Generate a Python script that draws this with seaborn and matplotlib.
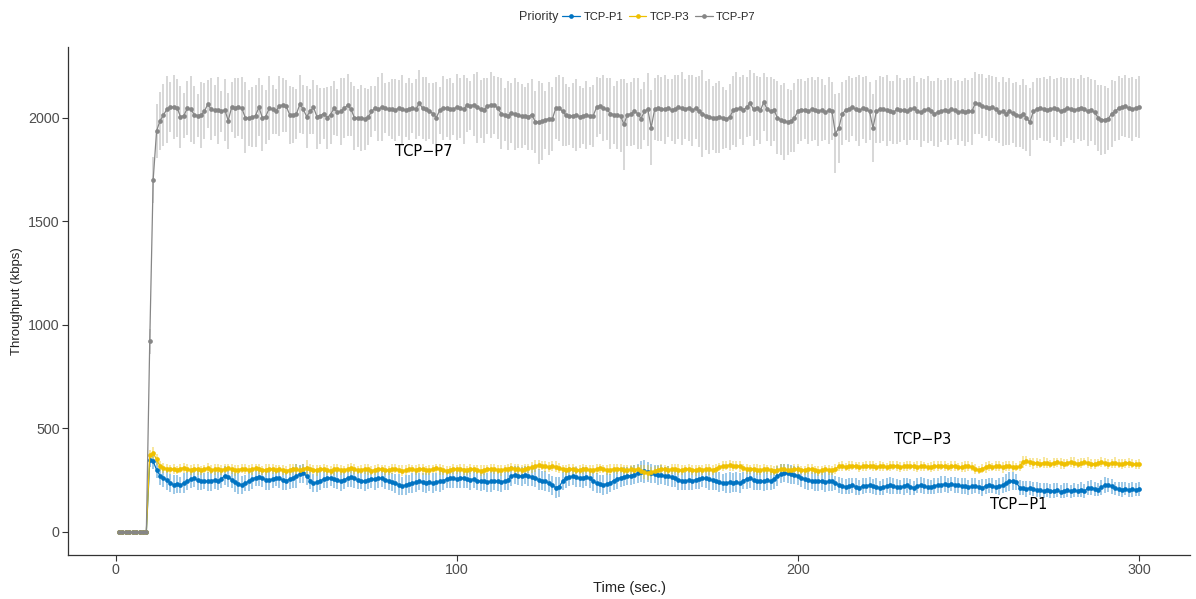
import matplotlib
matplotlib.use("Agg")
import matplotlib.pyplot as plt
from matplotlib.lines import Line2D
import numpy as np
import pandas as pd
import seaborn as sns

# ---------------- data ----------------
time = list(range(1, 301))

p1_mean = [
    0, 0, 0, 0, 0, 0, 0, 0, 0, 345,
    340, 300, 272, 262, 250, 236, 228, 232, 226, 236,
    244, 256, 258, 250, 244, 246, 244, 248, 250, 246,
    256, 272, 266, 252, 240, 232, 228, 236, 244, 256,
    262, 266, 260, 252, 250, 256, 262, 258, 250, 248,
    254, 262, 270, 278, 282, 270, 248, 236, 240, 248,
    254, 258, 262, 256, 250, 246, 252, 260, 264, 258,
    252, 248, 244, 250, 256, 254, 258, 260, 252, 248,
    240, 234, 228, 222, 226, 232, 236, 240, 244, 240,
    238, 242, 236, 240, 244, 248, 254, 258, 260, 256,
    258, 262, 256, 252, 256, 248, 244, 246, 240, 244,
    248, 244, 240, 246, 250, 270, 276, 272, 268, 274,
    270, 266, 262, 252, 248, 244, 236, 224, 214, 218,
    244, 262, 266, 268, 264, 260, 262, 266, 258, 244,
    236, 230, 228, 232, 236, 248, 256, 262, 266, 270,
    272, 276, 282, 290, 292, 288, 284, 278, 274, 276,
    270, 268, 264, 258, 252, 248, 244, 250, 246, 252,
    256, 260, 258, 254, 250, 244, 240, 238, 236, 240,
    238, 242, 236, 248, 256, 258, 252, 246, 248, 244,
    250, 246, 256, 270, 280, 284, 282, 278, 276, 272,
    262, 256, 250, 248, 246, 244, 248, 240, 244, 246,
    236, 226, 222, 218, 220, 224, 218, 214, 220, 222,
    226, 220, 218, 214, 216, 222, 224, 220, 218, 216,
    220, 224, 218, 214, 222, 226, 220, 218, 216, 222,
    226, 228, 230, 226, 232, 228, 224, 222, 220, 216,
    220, 222, 218, 214, 220, 224, 222, 218, 220, 226,
    236, 244, 246, 240, 214, 210, 208, 212, 206, 204,
    200, 198, 202, 196, 198, 200, 194, 198, 202, 196,
    200, 198, 204, 196, 212, 214, 208, 204, 216, 226,
    228, 220, 210, 206, 204, 208, 202, 206, 204, 206,
]

p3_mean = [
    0, 0, 0, 0, 0, 0, 0, 0, 0, 372,
    380, 350, 318, 308, 306, 302, 304, 300, 306, 310,
    304, 300, 306, 302, 298, 304, 308, 300, 302, 306,
    300, 304, 308, 302, 298, 300, 306, 304, 300, 302,
    308, 304, 298, 300, 306, 302, 300, 304, 298, 296,
    300, 306, 302, 298, 304, 310, 306, 300, 298, 302,
    304, 300, 296, 302, 306, 300, 298, 304, 308, 302,
    298, 300, 304, 302, 296, 300, 306, 302, 300, 298,
    302, 306, 300, 296, 298, 304, 302, 300, 306, 302,
    298, 300, 304, 308, 302, 298, 296, 300, 304, 302,
    306, 300, 298, 302, 304, 300, 296, 298, 302, 306,
    304, 300, 298, 302, 306, 310, 306, 302, 300, 304,
    308, 312, 318, 322, 320, 316, 312, 318, 314, 308,
    304, 300, 306, 302, 298, 300, 304, 302, 298, 300,
    304, 308, 302, 298, 300, 304, 302, 306, 300, 298,
    302, 300, 304, 296, 290, 286, 288, 294, 300, 304,
    302, 300, 304, 306, 300, 298, 302, 304, 300, 298,
    302, 300, 304, 302, 298, 306, 314, 318, 320, 322,
    318, 320, 316, 310, 304, 302, 306, 300, 298, 304,
    302, 300, 296, 298, 304, 302, 300, 298, 302, 304,
    300, 298, 302, 304, 300, 296, 298, 302, 300, 298,
    304, 316, 318, 314, 316, 320, 318, 314, 316, 318,
    320, 316, 314, 318, 316, 312, 316, 320, 318, 314,
    316, 318, 320, 316, 314, 318, 316, 312, 314, 318,
    316, 320, 318, 314, 316, 318, 314, 312, 316, 318,
    314, 304, 300, 306, 312, 316, 314, 318, 316, 312,
    316, 318, 314, 312, 316, 338, 340, 336, 332, 334,
    330, 334, 332, 328, 334, 336, 332, 330, 334, 338,
    334, 330, 332, 336, 334, 330, 328, 332, 336, 334,
    330, 332, 334, 330, 328, 332, 334, 330, 326, 328,
]

p7_mean = [
    0, 0, 0, 0, 0, 0, 0, 0, 0, 920,
    1700, 1935, 1985, 2012, 2040, 2050, 2052, 2048, 2005, 2010,
    2045, 2042, 2015, 2010, 2012, 2030, 2065, 2040, 2035, 2035,
    2030, 2038, 1985, 2050, 2048, 2052, 2045, 2000, 1998, 2002,
    2010, 2050, 2000, 2005, 2045, 2040, 2030, 2058, 2060, 2055,
    2015, 2012, 2018, 2065, 2040, 2005, 2030, 2050, 2005, 2010,
    2020, 2000, 2015, 2045, 2025, 2030, 2045, 2060, 2040, 2000,
    1998, 2000, 1995, 2002, 2030, 2045, 2040, 2050, 2045, 2040,
    2042, 2038, 2045, 2040, 2036, 2042, 2048, 2040, 2070, 2045,
    2040, 2030, 2020, 2000, 2035, 2045, 2048, 2040, 2042, 2050,
    2045, 2040, 2060, 2058, 2062, 2050, 2040, 2035, 2058, 2060,
    2062, 2045, 2020, 2015, 2010, 2022, 2018, 2012, 2008, 2010,
    2005, 2015, 1980, 1978, 1982, 1990, 1995, 1992, 2045, 2048,
    2030, 2012, 2008, 2010, 2012, 2005, 2010, 2012, 2008, 2010,
    2050, 2055, 2045, 2040, 2020, 2015, 2012, 2010, 1967, 2015,
    2018, 2030, 2020, 1995, 2030, 2040, 1952, 2040, 2045, 2042,
    2040, 2045, 2038, 2040, 2050, 2045, 2042, 2048, 2035, 2045,
    2030, 2020, 2010, 2005, 2000, 1998, 2002, 2000, 1995, 2002,
    2035, 2040, 2045, 2038, 2050, 2070, 2040, 2045, 2035, 2075,
    2040, 2030, 2035, 2000, 1990, 1982, 1980, 1985, 2000, 2030,
    2035, 2038, 2032, 2040, 2035, 2030, 2038, 2025, 2035, 2030,
    1922, 1950, 2020, 2035, 2042, 2050, 2040, 2035, 2045, 2040,
    2030, 1950, 2030, 2040, 2042, 2035, 2030, 2025, 2040, 2038,
    2035, 2030, 2042, 2045, 2030, 2025, 2035, 2040, 2030, 2020,
    2025, 2032, 2038, 2030, 2040, 2035, 2025, 2030, 2028, 2032,
    2030, 2070, 2068, 2055, 2050, 2045, 2050, 2040, 2025, 2030,
    2020, 2030, 2022, 2015, 2010, 2018, 2000, 1978, 2030, 2040,
    2045, 2042, 2038, 2040, 2045, 2042, 2030, 2038, 2045, 2040,
    2035, 2042, 2048, 2040, 2030, 2035, 2025, 2000, 1990, 1990,
    1995, 2020, 2030, 2045, 2050, 2055, 2045, 2040, 2048, 2050,
]

p1_sd = [
    0, 0, 0, 0, 0, 0, 0, 0, 0, 30,
    34, 40, 46, 44, 48, 42, 46, 44, 40, 48,
    44, 46, 42, 48, 44, 40, 46, 50, 44, 42,
    46, 44, 48, 42, 46, 50, 44, 40, 46, 48,
    42, 46, 44, 48, 50, 44, 42, 46, 48, 44,
    46, 50, 56, 44, 48, 46, 42, 44, 48, 46,
    44, 48, 42, 46, 44, 50, 46, 42, 48, 44,
    46, 42, 48, 44, 46, 50, 44, 42, 46, 48,
    44, 46, 50, 42, 48, 44, 46, 48, 42, 46,
    48, 44, 46, 42, 50, 46, 44, 48, 46, 42,
    46, 48, 44, 50, 42, 46, 48, 44, 46, 50,
    44, 46, 48, 42, 46, 50, 44, 48, 46, 44,
    48, 44, 46, 50, 44, 48, 42, 46, 50, 48,
    44, 48, 46, 42, 48, 44, 50, 46, 44, 48,
    46, 44, 48, 50, 42, 46, 48, 44, 46, 42,
    48, 46, 44, 50, 54, 48, 46, 44, 50, 46,
    44, 48, 46, 42, 50, 46, 44, 48, 46, 44,
    48, 44, 46, 50, 46, 44, 48, 42, 46, 50,
    44, 48, 46, 42, 48, 46, 50, 44, 46, 48,
    46, 44, 48, 50, 46, 42, 48, 46, 44, 48,
    44, 48, 46, 42, 50, 46, 44, 48, 46, 50,
    36, 38, 40, 36, 38, 34, 40, 36, 38, 36,
    38, 36, 40, 34, 38, 36, 40, 38, 36, 34,
    40, 36, 38, 34, 36, 40, 38, 36, 34, 38,
    36, 40, 38, 36, 34, 38, 36, 40, 38, 36,
    38, 36, 34, 40, 36, 38, 36, 34, 40, 38,
    42, 46, 44, 40, 36, 34, 38, 36, 34, 36,
    34, 36, 32, 34, 36, 34, 32, 36, 34, 32,
    34, 32, 36, 34, 32, 36, 34, 32, 36, 38,
    34, 36, 32, 34, 36, 32, 34, 36, 32, 34,
]

p3_sd = [
    0, 0, 0, 0, 0, 0, 0, 0, 0, 25,
    30, 26, 22, 24, 20, 22, 24, 20, 22, 24,
    22, 24, 20, 26, 22, 20, 24, 22, 26, 20,
    24, 22, 20, 24, 26, 22, 20, 24, 22, 26,
    20, 24, 22, 26, 20, 24, 22, 20, 24, 22,
    26, 22, 24, 20, 22, 36, 24, 22, 26, 20,
    22, 24, 20, 26, 22, 24, 20, 22, 26, 24,
    20, 22, 24, 26, 20, 24, 22, 20, 24, 22,
    24, 20, 22, 26, 24, 22, 20, 24, 22, 26,
    22, 24, 20, 22, 26, 24, 22, 20, 24, 22,
    20, 26, 22, 24, 20, 22, 26, 24, 20, 22,
    24, 22, 26, 20, 24, 22, 20, 26, 24, 22,
    22, 26, 28, 24, 22, 26, 24, 22, 26, 24,
    20, 24, 22, 26, 20, 22, 24, 20, 26, 22,
    24, 22, 20, 24, 26, 22, 24, 20, 22, 24,
    22, 24, 20, 26, 34, 36, 24, 22, 20, 24,
    22, 20, 24, 22, 26, 24, 20, 22, 24, 26,
    20, 24, 22, 26, 24, 22, 20, 24, 22, 26,
    24, 22, 26, 20, 24, 22, 20, 26, 24, 22,
    22, 24, 20, 26, 22, 24, 22, 20, 26, 24,
    20, 22, 24, 26, 20, 24, 22, 20, 24, 22,
    24, 22, 26, 20, 24, 22, 20, 24, 22, 26,
    22, 24, 20, 26, 22, 20, 24, 22, 26, 24,
    20, 24, 22, 20, 26, 24, 22, 20, 24, 22,
    24, 22, 26, 20, 24, 22, 20, 24, 26, 22,
    22, 24, 20, 22, 26, 24, 20, 22, 24, 26,
    24, 22, 26, 20, 24, 28, 24, 22, 26, 24,
    22, 26, 24, 20, 24, 22, 26, 24, 20, 24,
    26, 22, 24, 20, 26, 24, 22, 20, 24, 22,
    24, 22, 26, 20, 24, 22, 24, 20, 22, 24,
]

p7_sd = [
    0, 0, 0, 0, 0, 0, 0, 0, 0, 60,
    110, 130, 140, 150, 160, 120, 155, 140, 150, 110,
    130, 160, 140, 105, 160, 135, 115, 150, 125, 160,
    100, 150, 135, 120, 145, 140, 150, 170, 135, 145,
    150, 140, 160, 130, 155, 120, 110, 145, 130, 125,
    140, 135, 120, 140, 120, 150, 110, 130, 155, 135,
    125, 150, 140, 130, 115, 160, 145, 150, 130, 155,
    140, 160, 150, 135, 125, 110, 155, 165, 120, 130,
    145, 150, 135, 165, 130, 150, 120, 145, 160, 150,
    155, 135, 145, 170, 115, 155, 140, 150, 125, 160,
    145, 165, 130, 120, 150, 170, 140, 155, 135, 160,
    140, 150, 170, 130, 165, 145, 175, 160, 155, 140,
    160, 170, 150, 200, 185, 140, 175, 155, 150, 160,
    165, 150, 140, 155, 175, 150, 135, 165, 140, 150,
    145, 135, 160, 150, 170, 140, 165, 175, 220, 150,
    155, 160, 170, 145, 140, 175, 180, 150, 160, 155,
    165, 140, 150, 165, 155, 175, 145, 160, 170, 150,
    170, 210, 165, 180, 155, 170, 175, 150, 140, 160,
    165, 180, 150, 170, 145, 160, 175, 155, 160, 140,
    155, 165, 150, 175, 170, 185, 160, 150, 165, 155,
    150, 140, 160, 155, 145, 165, 150, 135, 160, 140,
    190, 170, 150, 145, 160, 140, 155, 170, 150, 160,
    140, 165, 150, 160, 155, 170, 145, 150, 165, 155,
    145, 160, 150, 155, 140, 165, 150, 160, 145, 155,
    165, 150, 145, 160, 150, 140, 155, 145, 165, 150,
    160, 150, 145, 155, 140, 160, 150, 155, 145, 165,
    150, 160, 145, 155, 150, 170, 160, 165, 140, 150,
    145, 155, 150, 160, 140, 150, 165, 155, 145, 150,
    155, 145, 160, 150, 165, 150, 155, 160, 170, 165,
    150, 160, 145, 155, 140, 150, 145, 155, 140, 150,
]

series_names = ["TCP-P1", "TCP-P3", "TCP-P7"]
x_ticks = [0, 100, 200, 300]
y_ticks = [0, 500, 1000, 1500, 2000]

# ---------------- build table ----------------
frames = []
for name, m, s in zip(series_names, [p1_mean, p3_mean, p7_mean], [p1_sd, p3_sd, p7_sd]):
    frames.append(pd.DataFrame({"time": time, "value": m, "sd": s, "Priority": name}))
df = pd.concat(frames, ignore_index=True)

colors = {"TCP-P1": "#0073C2", "TCP-P3": "#EFC000", "TCP-P7": "#868686"}
bar_alpha = {"TCP-P1": 0.45, "TCP-P3": 0.45, "TCP-P7": 0.38}

# ---------------- plot ----------------
sns.set_theme(style="ticks")
plt.rcParams["font.family"] = ["Liberation Sans", "DejaVu Sans"]

fig, ax = plt.subplots(figsize=(11.96, 5.99), dpi=100)
fig.subplots_adjust(left=0.0569, right=0.995, bottom=0.0735, top=0.9215)

# error bars first (as ggplot layers)
for name in series_names:
    d = df[df["Priority"] == name]
    d = d[d["sd"] > 0]
    ax.vlines(d["time"], d["value"] - d["sd"], d["value"] + d["sd"],
              color=colors[name], alpha=bar_alpha[name], linewidth=1.2, zorder=1)

sns.lineplot(data=df, x="time", y="value", hue="Priority", palette=colors,
             hue_order=series_names, estimator=None, marker="o", markersize=3.4,
             markeredgewidth=0, linewidth=0.9, ax=ax, legend=False, zorder=3)

ax.set_xlim(-13.95, 314.95)
ax.set_ylim(-111.5, 2341)
ax.set_xticks(x_ticks)
ax.set_yticks(y_ticks)
ax.set_xlabel("Time (sec.)", fontsize=10.5, color="#222222", labelpad=3)
ax.set_ylabel("Throughput (kbps)", fontsize=9.5, color="#222222", labelpad=4)
ax.tick_params(axis="both", labelsize=10.3, colors="#333333", length=4, width=0.8,
               labelcolor="#4d4d4d", pad=2)
for sp in ["top", "right"]:
    ax.spines[sp].set_visible(False)
for sp in ["left", "bottom"]:
    ax.spines[sp].set_color("#333333")
    ax.spines[sp].set_linewidth(0.9)

# direct labels
ax.text(90.2, 1835, "TCP−P7", ha="center", va="center", fontsize=10.5,
        family=["DejaVu Sans"], color="black")
ax.text(236.6, 445, "TCP−P3", ha="center", va="center", fontsize=10.5,
        family=["DejaVu Sans"], color="black")
ax.text(264.7, 131, "TCP−P1", ha="center", va="center", fontsize=10.5,
        family=["DejaVu Sans"], color="black")

# legend at top
handles = [Line2D([0], [0], color=colors[n], marker="o", markersize=3.4,
                  markeredgewidth=0, linewidth=0.9) for n in series_names]
fig.legend(handles, series_names, loc="center", bbox_to_anchor=(0.551, 0.9716),
           ncol=3, frameon=False, fontsize=8, handlelength=1.6,
           handletextpad=0.3, columnspacing=0.5)
fig.text(0.4666, 0.9716, "Priority", ha="right", va="center", fontsize=9,
         color="#333333")

fig.savefig("out.png", dpi=100)
